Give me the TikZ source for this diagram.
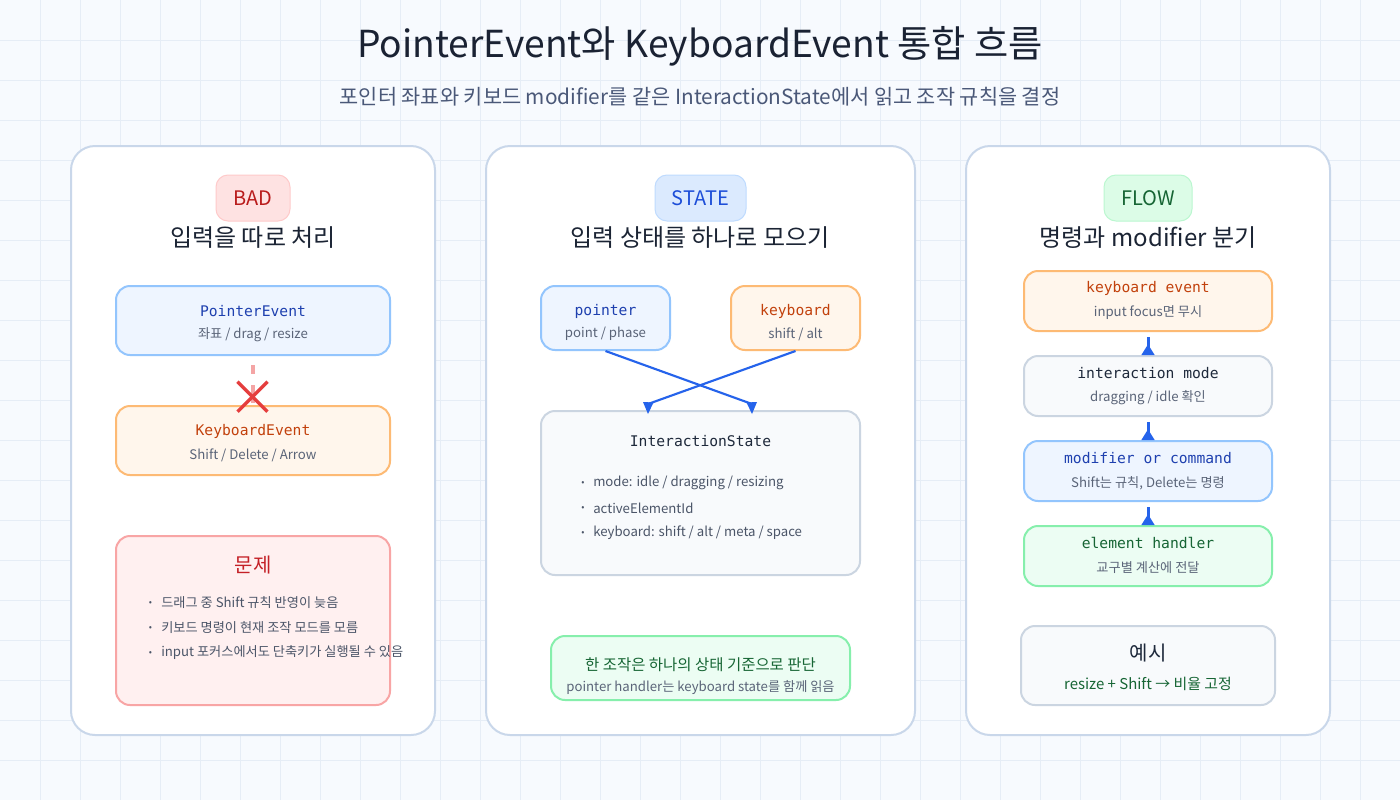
\documentclass[tikz,border=0pt]{standalone}
\usepackage{fontspec}
\setmainfont{Noto Sans CJK KR}
\newfontfamily\mono{DejaVu Sans Mono}
\usetikzlibrary{fit,arrows.meta}
\definecolor{bgc}{HTML}{F7FAFE}
\definecolor{gridc}{HTML}{E6EDF6}
\definecolor{panelbd}{HTML}{C9D7EA}
\definecolor{titlec}{HTML}{1A2233}
\definecolor{subtitlec}{HTML}{4A5878}
\definecolor{headc}{HTML}{1B2434}
\definecolor{subc}{HTML}{5A6478}
\definecolor{bulc}{HTML}{4B5568}
\definecolor{bluebg}{HTML}{EEF5FF}
\definecolor{bluebd}{HTML}{93C5FD}
\definecolor{bluet}{HTML}{1E40AF}
\definecolor{orbg}{HTML}{FFF6EC}
\definecolor{orbd}{HTML}{FDBA74}
\definecolor{ort}{HTML}{C2410C}
\definecolor{graybg}{HTML}{F8FAFC}
\definecolor{graybd}{HTML}{CBD5E1}
\definecolor{grayt}{HTML}{1E293B}
\definecolor{grbg}{HTML}{ECFDF3}
\definecolor{grbd}{HTML}{86EFAC}
\definecolor{grt}{HTML}{166534}
\definecolor{redbg}{HTML}{FFF0F0}
\definecolor{redbd}{HTML}{F8A5A5}
\definecolor{redt}{HTML}{C42026}
\definecolor{badbg}{HTML}{FEE2E2}
\definecolor{badbd}{HTML}{FECACA}
\definecolor{badt}{HTML}{B91C1C}
\definecolor{stbg}{HTML}{DBEAFE}
\definecolor{stbd}{HTML}{BFDBFE}
\definecolor{stt}{HTML}{1D4ED8}
\definecolor{flbg}{HTML}{DCFCE7}
\definecolor{flbd}{HTML}{BBF7D0}
\definecolor{flt}{HTML}{166534}
\definecolor{arrowc}{HTML}{2563EB}
\definecolor{xc}{HTML}{E53E3E}
\definecolor{dashc}{HTML}{F4A5A5}
\begin{document}
\begin{tikzpicture}[x=0.75pt,y=-0.75pt,
  panel/.style={draw=panelbd, line width=1.5pt, fill=white, rounded corners=18pt, inner sep=0pt},
  box/.style={line width=1.5pt, rounded corners=10.5pt, inner sep=0pt},
  bluebox/.style={box, draw=bluebd, fill=bluebg},
  orangebox/.style={box, draw=orbd, fill=orbg},
  graybox/.style={box, draw=graybd, fill=graybg},
  greenbox/.style={box, draw=grbd, fill=grbg},
  redbox/.style={box, draw=redbd, fill=redbg},
  badge/.style={line width=0.75pt, rounded corners=9pt, inner sep=0pt},
  badgetext/.style={font=\fontsize{15}{17}\selectfont, inner sep=0pt},
  heading/.style={font=\fontsize{18}{21}\selectfont, text=headc, inner sep=0pt},
  monot/.style={font=\mono\fontsize{11}{13}\selectfont, inner sep=0pt},
  subt/.style={font=\fontsize{9.9}{12}\selectfont, text=subc, inner sep=0pt},
  bul/.style={font=\fontsize{9.9}{12}\selectfont, text=bulc, inner sep=0pt, anchor=west},
  dotm/.style={font=\fontsize{7}{8}\selectfont, text=bulc, inner sep=0pt},
  flowline/.style={draw=arrowc, line width=1.6pt},
  vline/.style={draw=arrowc, line width=2.25pt},
]
\fill[bgc] (0,0) rectangle (1400,800);
\useasboundingbox (0,0) rectangle (1400,800);
\foreach \i in {40,80,...,1360} \draw[gridc, line width=0.75pt] (\i,0) -- (\i,800);
\foreach \j in {40,80,...,760} \draw[gridc, line width=0.75pt] (0,\j) -- (1400,\j);

% titles
\node[font=\fontsize{27.9}{32}\selectfont, text=titlec, inner sep=0pt] (title) at (700,46) {PointerEvent와 KeyboardEvent 통합 흐름};
\node[font=\fontsize{15.6}{19}\selectfont, text=subtitlec, inner sep=0pt] (subtitle) at (700,97) {포인터 좌표와 키보드 modifier를 같은 InteractionState에서 읽고 조작 규칙을 결정};

% panels
\node[panel, fit={(71,146) (435,735)}] (pL) {};
\node[panel, fit={(486,146) (915,735)}] (pM) {};
\node[panel, fit={(966,146) (1330,735)}] (pR) {};

% ---------- left panel ----------
\node[badge, draw=badbd, fill=badbg, fit={(216,175) (290,221)}] (bad) {};
\node[badgetext, text=badt] (badt) at (bad.center) {BAD};
\node[heading] (hL) at (253,238) {입력을 따로 처리};

\node[bluebox, fit={(116,286) (390,355)}] (pe) {};
\node[monot, text=bluet] (pet) at (253,311) {PointerEvent};
\node[subt] (pes) at (253,334.5) {좌표 / drag / resize};

\node[orangebox, fit={(116,406) (390,475)}] (ke) {};
\node[monot, text=ort] (ket) at (253,431) {KeyboardEvent};
\node[subt] (kes) at (253,455) {Shift / Delete / Arrow};

\coordinate (dA) at (253,365);
\coordinate (dB) at (253,403);
\draw[dashc, line width=2.3pt, dash pattern=on 6.75pt off 8.25pt on 13.5pt off 10pt] (dA) -- (dB);
\coordinate (xm) at (252.5,396.7);
\draw[xc, line width=2.6pt] (237.5,381.7) -- (267.5,411.7);
\draw[xc, line width=2.6pt] (267.5,381.7) -- (237.5,411.7);

\node[redbox, fit={(116,536) (390,705)}] (prob) {};
\node[font=\fontsize{15}{18}\selectfont, text=redt, inner sep=0pt] (probt) at (253,565) {문제};
\node[dotm] (pd1) at (150.5,603) {•};
\node[bul] (pb1) at (161,603) {드래그 중 Shift 규칙 반영이 늦음};
\node[dotm] (pd2) at (150.5,628) {•};
\node[bul] (pb2) at (161,628) {키보드 명령이 현재 조작 모드를 모름};
\node[dotm] (pd3) at (150.5,653) {•};
\node[bul] (pb3) at (161,653) {input 포커스에서도 단축키가 실행될 수 있음};

% ---------- middle panel ----------
\node[badge, draw=stbd, fill=stbg, fit={(655,175) (746,221)}] (st) {};
\node[badgetext, text=stt] (stt) at (st.center) {STATE};
\node[heading] (hM) at (700,238) {입력 상태를 하나로 모으기};

\node[bluebox, fit={(541,286) (670,350)}] (ptr) {};
\node[monot, text=bluet] (ptrt) at (605.5,311) {pointer};
\node[subt] (ptrs) at (605.5,334) {point / phase};

\node[orangebox, fit={(731,286) (860,350)}] (kbd) {};
\node[monot, text=ort] (kbdt) at (795.5,311) {keyboard};
\node[subt] (kbds) at (795.5,334) {shift / alt};

\node[graybox, fit={(541,411) (860,575)}] (is) {};
\node[monot, text=grayt] (ist) at (700.5,441) {InteractionState};
\node[dotm] (id1) at (583,483) {•};
\node[bul] (ib1) at (593,483) {mode: idle / dragging / resizing};
\node[dotm] (id2) at (583,508) {•};
\node[bul] (ib2) at (593,508) {activeElementId};
\node[dotm] (id3) at (583,533) {•};
\node[bul] (ib3) at (593,533) {keyboard: shift / alt / meta / space};

\coordinate (aR) at (752,404);
\coordinate (aL) at (648,404);
\draw[flowline] (ptr.south) -- (aR);
\draw[flowline] (kbd.south) -- (aL);
\fill[arrowc] (746.5,402.5) -- (757,402) -- (752,414) -- cycle;
\fill[arrowc] (643,402) -- (653.5,402.5) -- (648,414) -- cycle;

\node[greenbox, fit={(551,636) (850,700)}] (rule) {};
\node[font=\fontsize{11.6}{14}\selectfont, text=grt, inner sep=0pt] (rulet) at (700.5,665) {한 조작은 하나의 상태 기준으로 판단};
\node[subt] (rules) at (700.5,688) {pointer handler는 keyboard state를 함께 읽음};

% ---------- right panel ----------
\node[badge, draw=flbd, fill=flbg, fit={(1104,175) (1192,221)}] (fl) {};
\node[badgetext, text=flt] (flt) at (fl.center) {FLOW};
\node[heading] (hR) at (1148,238) {명령과 modifier 분기};

\node[orangebox, fit={(1024,271) (1272,331)}] (kev) {};
\node[monot, text=ort] (kevt) at (1148,288) {keyboard event};
\node[subt] (kevs) at (1148,313) {input focus면 무시};

\node[graybox, fit={(1024,356) (1272,416)}] (imode) {};
\node[monot, text=grayt] (imodet) at (1148,373) {interaction mode};
\node[subt] (imodes) at (1148,398) {dragging / idle 확인};

\node[bluebox, fit={(1024,441) (1272,501)}] (moc) {};
\node[monot, text=bluet] (moct) at (1148,458) {modifier or command};
\node[subt] (mocs) at (1148,483) {Shift는 규칙, Delete는 명령};

\node[greenbox, fit={(1024,526) (1272,586)}] (eh) {};
\node[monot, text=grt] (eht) at (1148,543) {element handler};
\node[subt] (ehs) at (1148,568) {교구별 계산에 전달};

\draw[vline] ([yshift=-3.75pt]kev.south) -- (imode.north);
\draw[vline] ([yshift=-3.75pt]imode.south) -- (moc.north);
\draw[vline] ([yshift=-3.75pt]moc.south) -- (eh.north);
\foreach \n in {imode,moc,eh}
  \fill[arrowc] ([xshift=-5pt]\n.north) -- ([xshift=5pt]\n.north) -- ([yshift=8pt]\n.north) -- cycle;

\node[graybox, fit={(1021,626) (1275,705)}] (ex) {};
\node[font=\fontsize{15}{18}\selectfont, text=grayt, inner sep=0pt] (ext) at (1148,653) {예시};
\node[font=\fontsize{11.2}{13}\selectfont, text=grt, inner sep=0pt] (exs) at (1148,683.5) {resize + Shift → 비율 고정};
\end{tikzpicture}
\end{document}
